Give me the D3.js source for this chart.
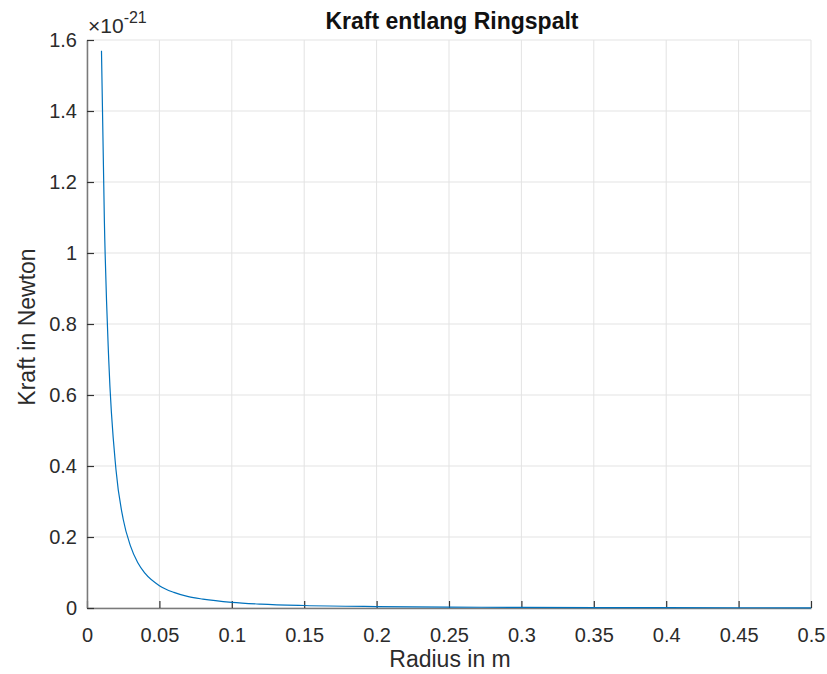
<!DOCTYPE html>
<html>
<head>
<meta charset="utf-8">
<script src="https://cdn.jsdelivr.net/npm/d3@7"></script>
<style>
  body { margin: 0; background: #fff; }
  svg { font-family: "Liberation Sans", Arial, sans-serif; }
</style>
</head>
<body>
<svg id="chart" width="827" height="674"></svg>
<script>
// radius in m
var radius = [0.01, 0.012, 0.015, 0.02, 0.025, 0.03, 0.035, 0.04, 0.05, 0.06, 0.07,
  0.08, 0.1, 0.12, 0.15, 0.2, 0.25, 0.3, 0.4, 0.5];
// force in 1e-21 N
var force = [1.57, 1.09, 0.70, 0.39, 0.25, 0.175, 0.128, 0.098, 0.063, 0.044, 0.032,
  0.025, 0.016, 0.011, 0.007, 0.004, 0.0025, 0.0017, 0.001, 0.0006];

var xTicks = [0, 0.05, 0.1, 0.15, 0.2, 0.25, 0.3, 0.35, 0.4, 0.45, 0.5];
var yTicks = [0, 0.2, 0.4, 0.6, 0.8, 1, 1.2, 1.4, 1.6];

var m = { left: 87, right: 811, top: 40, bottom: 608 };
var svg = d3.select('#chart');

var x = d3.scaleLinear().domain([0, 0.5]).range([m.left, m.right]);
var y = d3.scaleLinear().domain([0, 1.6]).range([m.bottom, m.top]);

var axisColor = '#7a7a7a';
var textColor = '#2b2b2b';

// grid
svg.append('g').selectAll('line.vx')
  .data(xTicks)
  .enter().append('line')
  .attr('x1', function(d) { return x(d); })
  .attr('x2', function(d) { return x(d); })
  .attr('y1', m.top)
  .attr('y2', m.bottom)
  .attr('stroke', '#e3e3e3')
  .attr('stroke-width', 1);

svg.append('g').selectAll('line.hy')
  .data(yTicks)
  .enter().append('line')
  .attr('x1', m.left)
  .attr('x2', m.right)
  .attr('y1', function(d) { return y(d); })
  .attr('y2', function(d) { return y(d); })
  .attr('stroke', '#e3e3e3')
  .attr('stroke-width', 1);

// axes
var fmt = function(d) { return String(d); };

var xAxis = svg.append('g')
  .attr('transform', 'translate(0,' + m.bottom + ')')
  .call(d3.axisBottom(x).tickValues(xTicks).tickFormat(fmt).tickSizeInner(-7).tickSizeOuter(0).tickPadding(20));

var yAxis = svg.append('g')
  .attr('transform', 'translate(' + m.left + ',0)')
  .call(d3.axisLeft(y).tickValues(yTicks).tickFormat(fmt).tickSizeInner(-7).tickSizeOuter(0).tickPadding(10));

[xAxis, yAxis].forEach(function(a) {
  a.select('.domain').attr('stroke', axisColor).attr('stroke-width', 1.5);
  a.selectAll('.tick line').attr('stroke', '#333').attr('stroke-width', 1.2);
  a.selectAll('.tick text')
    .attr('fill', textColor)
    .style('font-size', '20px')
    .style('font-family', '"Liberation Sans", Arial, sans-serif');
});

// curve
var line = d3.line()
  .x(function(d, i) { return x(radius[i]); })
  .y(function(d) { return y(d); })
  .curve(d3.curveMonotoneX);

svg.append('path')
  .datum(force)
  .attr('d', line)
  .attr('fill', 'none')
  .attr('stroke', '#0072BD')
  .attr('stroke-width', 1.2);

// title
svg.append('text')
  .attr('x', 452)
  .attr('y', 29)
  .attr('text-anchor', 'middle')
  .attr('fill', '#111')
  .style('font-size', '23px')
  .style('font-weight', 'bold')
  .text('Kraft entlang Ringspalt');

// exponent
var ex = svg.append('text')
  .attr('x', m.left + 1)
  .attr('y', 33)
  .attr('fill', textColor)
  .style('font-size', '21px');
ex.append('tspan').text('\u00d710');
ex.append('tspan').attr('dy', -10).style('font-size', '16px').text('-21');

// axis labels
svg.append('text')
  .attr('x', 450)
  .attr('y', 667)
  .attr('text-anchor', 'middle')
  .attr('fill', textColor)
  .style('font-size', '23px')
  .text('Radius in m');

svg.append('text')
  .attr('transform', 'translate(35,327) rotate(-90)')
  .attr('text-anchor', 'middle')
  .attr('fill', textColor)
  .style('font-size', '23px')
  .text('Kraft in Newton');
</script>
</body>
</html>
